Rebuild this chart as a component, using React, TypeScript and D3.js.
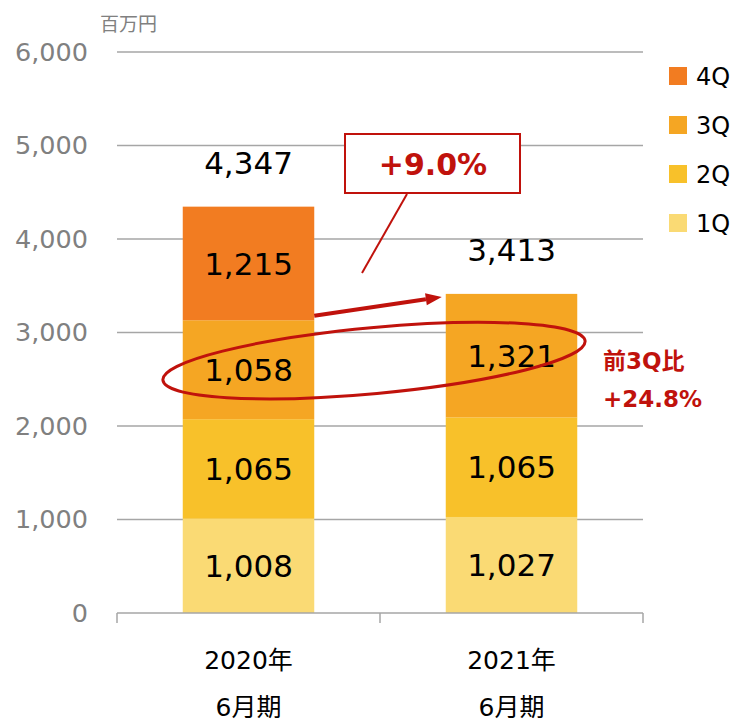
import * as d3 from 'd3';

const categories = ['2020年|6月期', '2021年|6月期'];
const quarters = ['1Q', '2Q', '3Q', '4Q'];
const q1 = [1008, 1027];
const q2 = [1065, 1065];
const q3 = [1058, 1321];
const q4 = [1215, 0];
const totals = [4347, 3413];
const yTicks = [0, 1000, 2000, 3000, 4000, 5000, 6000];

const colors: Record<string, string> = {
  '1Q': '#FADA74',
  '2Q': '#F8C12A',
  '3Q': '#F5A623',
  '4Q': '#F27C21',
};

const RED = '#C0120C';
const FONT = '"DejaVu Sans", "Noto Sans CJK JP", sans-serif';

export default function App() {
  const width = 737;
  const height = 721;
  const left = 117;
  const right = 643;
  const top = 52;
  const bottom = 613;

  const x = d3.scaleBand().domain(categories).range([left, right]).paddingInner(0.5).paddingOuter(0.25);
  const y = d3.scaleLinear().domain([0, 6000]).range([bottom, top]);

  const rows = categories.map((c, i) => ({ cat: c, '1Q': q1[i], '2Q': q2[i], '3Q': q3[i], '4Q': q4[i] }));
  const stack = d3.stack<any>().keys(quarters)(rows);
  const bw = x.bandwidth();
  const fmt = d3.format(',');

  const x0 = x(categories[0])!;
  const x1 = x(categories[1])!;
  // arrow from 2020 bar to 2021 bar top
  const ax1 = x0 + bw;
  const ay1 = y(3180);
  const ax2 = x1 - 4;
  const ay2 = y(3413) + 3;
  const ang = Math.atan2(ay2 - ay1, ax2 - ax1);
  const ah = 16;
  const aw = 6;
  const baseX = ax2 - ah * Math.cos(ang);
  const baseY = ay2 - ah * Math.sin(ang);
  const arrowHead = [
    [ax2, ay2],
    [baseX + aw * Math.sin(ang), baseY - aw * Math.cos(ang)],
    [baseX - aw * Math.sin(ang), baseY + aw * Math.cos(ang)],
  ];

  const ellCx = (x0 + bw + x1) / 2 - 6;
  const ellCy = y(2700);

  return (
    <svg width={width} height={height} style={{ position: 'absolute', left: 0, top: 0, background: '#fff' }} fontFamily={FONT}>
      {/* grid */}
      {yTicks.filter(t => t > 0).map(t => (
        <line key={t} x1={left} x2={right} y1={y(t)} y2={y(t)} stroke="#A6A6A6" strokeWidth={1.5} />
      ))}
      {yTicks.map(t => (
        <text key={t} x={88} y={y(t)} dy="0.35em" textAnchor="end" fontSize={25.5} fill="#808080">{fmt(t)}</text>
      ))}
      <text x={100} y={31} fontSize={19} fill="#808080">百万円</text>

      {/* bars */}
      {stack.map(layer => (
        <g key={layer.key} fill={colors[layer.key]}>
          {layer.map((d, i) => d[1] - d[0] > 0 ? (
            <rect key={i} x={x(categories[i])} y={y(d[1])} width={bw} height={y(d[0]) - y(d[1])} />
          ) : null)}
        </g>
      ))}
      {stack.map(layer => layer.map((d, i) => d[1] - d[0] > 0 ? (
        <text key={layer.key + i} x={x(categories[i])! + bw / 2} y={(y(d[0]) + y(d[1])) / 2} dy="0.36em"
          textAnchor="middle" fontSize={31} fill="#000">{fmt(d[1] - d[0])}</text>
      ) : null))}
      {totals.map((t, i) => (
        <text key={i} x={x(categories[i])! + bw / 2} y={y(t) - 44} dy="0.36em" textAnchor="middle" fontSize={31} fill="#000">{fmt(t)}</text>
      ))}

      {/* x axis */}
      <line x1={left} x2={right} y1={bottom} y2={bottom} stroke="#A6A6A6" strokeWidth={1.5} />
      {[left, (left + right) / 2, right].map((v, i) => (
        <line key={i} x1={v} x2={v} y1={bottom} y2={bottom + 10} stroke="#A6A6A6" strokeWidth={1.5} />
      ))}
      {categories.map(c => (
        <g key={c}>
          <text x={x(c)! + bw / 2} y={660} dy="0.35em" textAnchor="middle" fontSize={25} fill="#000">{c.split('|')[0]}</text>
          <text x={x(c)! + bw / 2} y={707} dy="0.35em" textAnchor="middle" fontSize={25} fill="#000">{c.split('|')[1]}</text>
        </g>
      ))}

      {/* legend */}
      {quarters.slice().reverse().map((q, i) => (
        <g key={q} transform={`translate(669,${76 + i * 49})`}>
          <rect x={0} y={-9} width={18} height={18} fill={colors[q]} />
          <text x={27} y={0} dy="0.36em" fontSize={24} fill="#000">{q}</text>
        </g>
      ))}

      {/* annotations */}
      <line x1={ax1} y1={ay1} x2={baseX} y2={baseY} stroke={RED} strokeWidth={4} />
      <polygon points={arrowHead.map(p => p.join(',')).join(' ')} fill={RED} />
      <ellipse cx={ellCx} cy={ellCy} rx={212} ry={33} fill="none" stroke={RED} strokeWidth={3}
        transform={`rotate(-5.3,${ellCx},${ellCy})`} />
      <line x1={407} y1={194} x2={362} y2={273} stroke={RED} strokeWidth={2} />
      <rect x={345} y={134} width={175} height={59} fill="#fff" stroke={RED} strokeWidth={2} />
      <text x={433} y={164} dy="0.36em" textAnchor="middle" fontSize={30} fontWeight="bold" fill={RED}>+9.0%</text>
      <text x={603} y={361} dy="0.36em" fontSize={23} fontWeight="bold" fill={RED}>前3Q比</text>
      <text x={603} y={399} dy="0.36em" fontSize={23} fontWeight="bold" fill={RED}>+24.8%</text>
    </svg>
  );
}
